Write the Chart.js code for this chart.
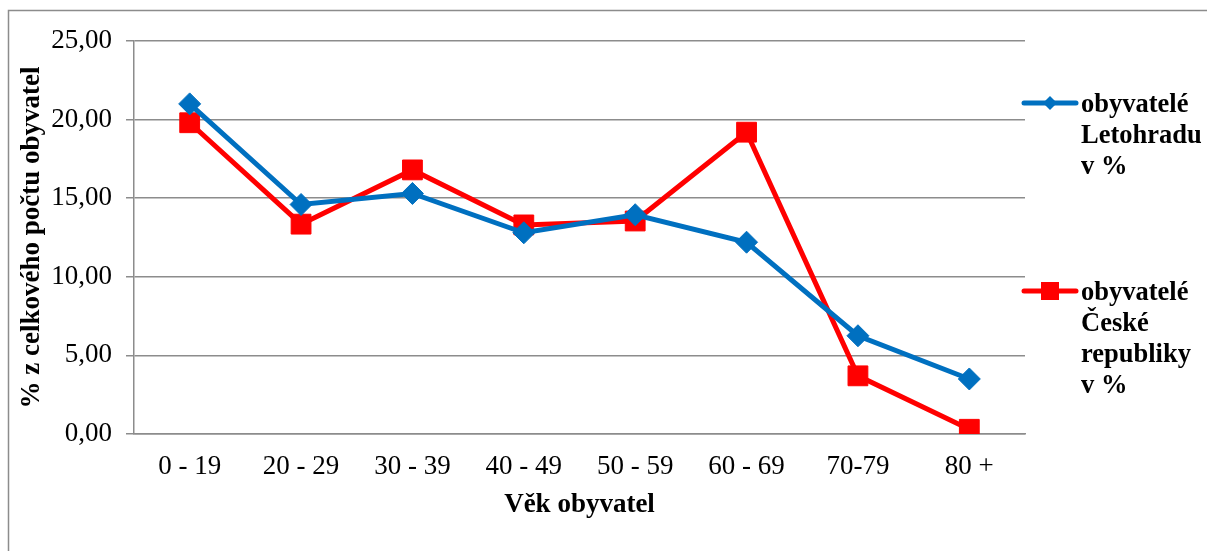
<!DOCTYPE html>
<html>
<head>
<meta charset="utf-8">
<script src="https://cdn.jsdelivr.net/npm/chart.js@4.4.1/dist/chart.umd.min.js"></script>
<style>
  html, body { margin: 0; padding: 0; background: #fff; }
  #wrap { position: relative; width: 1207px; height: 551px; }
</style>
</head>
<body>
<div id="wrap"><canvas id="vekChart"></canvas></div>
<script>
// Věkové skupiny a podíly v %
const kategorie = ['0 - 19', '20 - 29', '30 - 39', '40 - 49', '50 - 59', '60 - 69', '70-79', '80 +'];
const letohrad = [21.0, 14.6, 15.3, 12.8, 13.95, 12.2, 6.25, 3.5];
const ceskaRepublika = [19.8, 13.35, 16.8, 13.3, 13.55, 19.2, 3.7, 0.3];
const nazvySerii = [
    ['obyvatelé', 'Letohradu', 'v %'],
    ['obyvatelé', 'České', 'republiky', 'v %']
];

const FONT = 'Liberation Serif';
const SEDA = '#8c8c8c';

// ramecek kolem celeho grafu
const ramecek = {
    id: 'ramecek',
    beforeDraw(chart) {
        const ctx = chart.ctx;
        ctx.save();
        ctx.strokeStyle = SEDA;
        ctx.lineWidth = 1.5;
        ctx.strokeRect(8.5, 10.5, 1400, 800);
        ctx.restore();
    }
};

// legenda vpravo, s vice radky textu
const legendaVpravo = {
    id: 'legendaVpravo',
    afterDraw(chart) {
        const ctx = chart.ctx;
        const pozice = [103, 291];
        ctx.save();
        chart.data.datasets.forEach(function (ds, i) {
            const y = pozice[i];
            ctx.strokeStyle = ds.borderColor;
            ctx.fillStyle = ds.borderColor;
            ctx.lineWidth = 5;
            ctx.lineCap = 'round';
            ctx.beginPath();
            ctx.moveTo(1024, y);
            ctx.lineTo(1076, y);
            ctx.stroke();
            ctx.beginPath();
            if (ds.pointStyle === 'rectRot') {
                const r = 7;
                ctx.moveTo(1050, y - r);
                ctx.lineTo(1050 + r, y);
                ctx.lineTo(1050, y + r);
                ctx.lineTo(1050 - r, y);
                ctx.closePath();
            } else {
                ctx.rect(1041, y - 9, 18, 18);
            }
            ctx.fill();

            ctx.fillStyle = '#000';
            ctx.font = 'bold 26.5px "' + FONT + '"';
            ctx.textBaseline = 'middle';
            ctx.textAlign = 'left';
            nazvySerii[i].forEach(function (radek, j) {
                ctx.fillText(radek, 1081, y + 2 + j * 31);
            });
        });
        ctx.restore();
    }
};

new Chart(document.getElementById('vekChart'), {
    type: 'line',
    data: {
        labels: kategorie,
        datasets: [{
            label: nazvySerii[0].join(' '),
            data: letohrad,
            borderColor: '#0070C0',
            backgroundColor: '#0070C0',
            borderWidth: 5,
            pointStyle: 'rectRot',
            pointRadius: 11,
            pointBorderWidth: 1,
            tension: 0
        }, {
            label: nazvySerii[1].join(' '),
            data: ceskaRepublika,
            borderColor: '#FF0000',
            backgroundColor: '#FF0000',
            borderWidth: 5,
            pointStyle: 'rect',
            pointRadius: 14,
            pointBorderWidth: 1,
            tension: 0
        }]
    },
    options: {
        responsive: true,
        maintainAspectRatio: false,
        animation: false,
        layout: { padding: { left: 0, top: 41, right: 182, bottom: 0 } },
        plugins: {
            legend: { display: false },
            tooltip: { enabled: false }
        },
        scales: {
            x: {
                offset: true,
                afterFit: function (scale) { scale.height = 117; },
                grid: { display: false, drawTicks: false },
                border: { color: SEDA, width: 1.5 },
                ticks: {
                    color: '#000',
                    padding: 17,
                    maxRotation: 0,
                    font: { family: FONT, size: 27 }
                },
                title: {
                    display: true,
                    text: 'Věk obyvatel',
                    color: '#000',
                    padding: { top: 0, bottom: 30 },
                    font: { family: FONT, size: 27, weight: 'bold' }
                }
            },
            y: {
                min: 0,
                max: 25,
                afterFit: function (scale) { scale.width = 134; },
                grid: { color: SEDA, lineWidth: 1.5, tickLength: 8, drawTicks: true },
                border: { color: SEDA, width: 1.5 },
                ticks: {
                    stepSize: 5,
                    color: '#000',
                    padding: 14,
                    font: { family: FONT, size: 27 },
                    callback: function (v) { return v.toFixed(2).replace('.', ','); }
                },
                title: {
                    display: true,
                    text: '% z celkového počtu obyvatel',
                    color: '#000',
                    padding: { top: 16, bottom: 0 },
                    font: { family: FONT, size: 27, weight: 'bold' }
                }
            }
        }
    },
    plugins: [ramecek, legendaVpravo]
});
</script>
</body>
</html>
